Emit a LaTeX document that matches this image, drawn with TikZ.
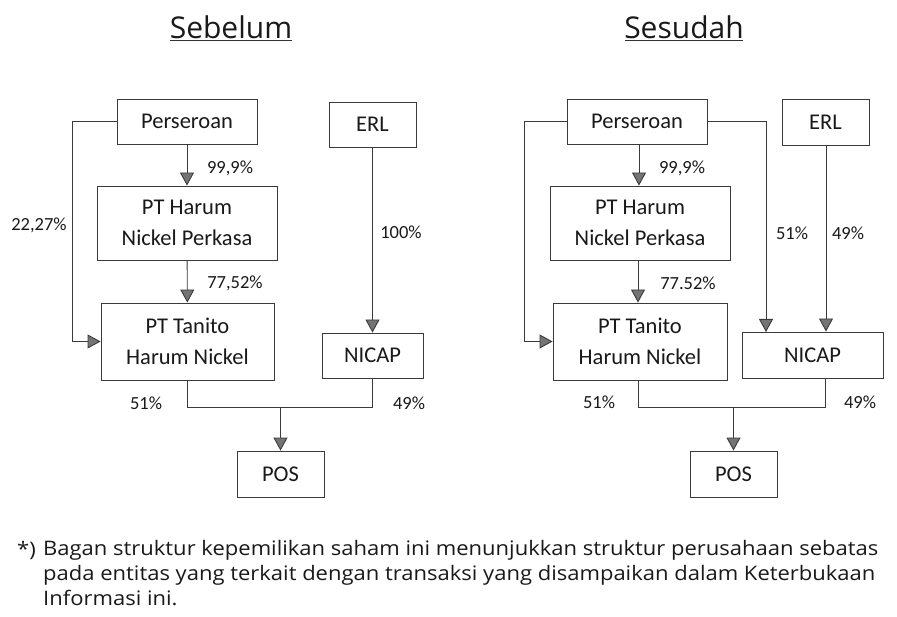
\documentclass[tikz,border=0pt]{standalone}
\usepackage{fontspec}
\setmainfont{Carlito}
\newfontfamily\titlefont{Open Sans}
\newfontfamily\notefont[FakeStretch=1.1]{Open Sans}
\usetikzlibrary{arrows.meta}

\definecolor{linegray}{HTML}{3A3A3A}
\definecolor{tipgray}{HTML}{747474}

\tikzstyle{box} = [draw=linegray, line width=0.9pt, align=center, inner sep=0pt,
    font=\fontsize{22.5}{31}\selectfont]
\tikzstyle{pct} = [inner sep=0pt, font=\fontsize{18.5}{20}\selectfont]
\tikzstyle{conn} = [draw=linegray, line width=0.9pt]
\tikzstyle{arr} = [conn, -{Triangle[width=14pt, length=13pt, fill=tipgray]}]
\tikzstyle{ttl} = [inner sep=0pt, font=\titlefont\fontsize{30}{34}\selectfont]
\tikzstyle{note} = [inner sep=0pt, font=\notefont\fontsize{20}{25}\selectfont]

\begin{document}
\begin{tikzpicture}[x=1pt, y=-1pt, text=black!90]
\useasboundingbox (0,0) rectangle (897,617);

% Sebelum
\node[ttl] (ttlL) at (231,27) {Sebelum};
\draw[black!80, line width=0.9pt] (170,40) -- (292,40);

\node[box, minimum width=140, minimum height=45] (persL) at (187,121.5) {Perseroan};
\node[box, minimum width=87, minimum height=45] (erlL) at (372.5,124.5) {ERL};
\node[box, minimum width=180, minimum height=74] (harL) at (187,223) {PT Harum\\Nickel Perkasa};
\node[box, minimum width=173, minimum height=77] (tanL) at (187.5,341.5) {PT Tanito\\Harum Nickel};
\node[box, minimum width=101, minimum height=45] (nicL) at (372.5,355.5) {NICAP};
\node[box, minimum width=87, minimum height=46] (posL) at (280.5,474) {POS};

\draw[arr] (persL) -- (harL);
\draw[arr] (harL) -- (tanL);
\draw[arr] (persL.west) -- ++(-44,0) |- (tanL.west);
\draw[arr] (erlL) -- (nicL);
\draw[conn] (tanL.south) -- ++(0,27) -| (nicL.south);
\coordinate (jL) at (280.5,407);
\draw[arr] (jL) -- (posL);

\node[pct] (p1L) at (230,168) {99,9\%};
\node[pct] (p2L) at (235,283) {77,52\%};
\node[pct] (p3L) at (39,225) {22,27\%};
\node[pct] (p4L) at (401,232) {100\%};
\node[pct] (p5L) at (146,403) {51\%};
\node[pct] (p6L) at (409,403) {49\%};

% Sesudah
\node[ttl] (ttlR) at (684,27) {Sesudah};
\draw[black!80, line width=0.9pt] (625,40) -- (743,40);

\node[box, minimum width=140, minimum height=45] (persR) at (637,121.5) {Perseroan};
\node[box, minimum width=87, minimum height=46] (erlR) at (825.5,122) {ERL};
\node[box, minimum width=180, minimum height=74] (harR) at (640,223) {PT Harum\\Nickel Perkasa};
\node[box, minimum width=174, minimum height=77] (tanR) at (640,341.5) {PT Tanito\\Harum Nickel};
\node[box, minimum width=141, minimum height=46] (nicR) at (812.5,355) {NICAP};
\node[box, minimum width=87, minimum height=46] (posR) at (733.5,474) {POS};

\draw[arr] (persR.south -| 639,0) -- (harR.north -| 639,0);
\draw[arr] (harR.south -| 638,0) -- (tanR.north -| 638,0);
\draw[arr] (persR.west) -- ++(-42,0) |- (tanR.west);
\coordinate (inR) at (766,332);
\draw[arr] (persR.east) -| (inR);
\draw[arr] (erlR.south -| 826,0) -- (nicR.north -| 826,0);
\draw[conn] (tanR.south -| 638,0) -- (638,407) -| (nicR.south -| 825,0);
\coordinate (jR) at (733.5,407);
\draw[arr] (jR) -- (posR);

\node[pct] (p1R) at (682,168) {99,9\%};
\node[pct] (p2R) at (688,283) {77.52\%};
\node[pct] (p3R) at (792,233) {51\%};
\node[pct] (p4R) at (848,233) {49\%};
\node[pct] (p5R) at (599,402) {51\%};
\node[pct] (p6R) at (860,402) {49\%};

% catatan
\node[note, anchor=base west] (star) at (17,556) {*)};
\node[note, anchor=north west, align=left] (note) at (43,540)
  {Bagan struktur kepemilikan saham ini menunjukkan struktur perusahaan sebatas\\
   pada entitas yang terkait dengan transaksi yang disampaikan dalam Keterbukaan\\
   Informasi ini.};
\end{tikzpicture}
\end{document}
